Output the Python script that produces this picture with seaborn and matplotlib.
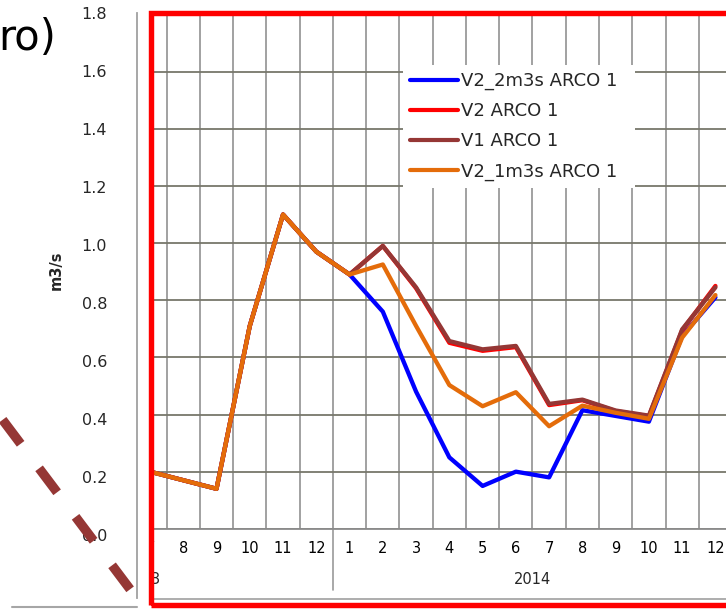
import numpy as np
import pandas as pd
import matplotlib
matplotlib.use("Agg")
import matplotlib.pyplot as plt
import seaborn as sns
from matplotlib.lines import Line2D
from matplotlib.patches import Rectangle
from matplotlib.transforms import Bbox, TransformedBbox
from matplotlib.ticker import FormatStrFormatter

sns.set_style("white")
plt.rcParams["font.family"] = ["DejaVu Sans"]
plt.rcParams["lines.scale_dashes"] = False

# ---- data -------------------------------------------------------------
months = ["7", "8", "9", "10", "11", "12",
          "1", "2", "3", "4", "5", "6", "7", "8", "9", "10", "11", "12"]
year_labels = ["2013", "2014"]

v2_2m3s = [0.20, 0.17, 0.14, 0.71, 1.10, 0.97, 0.89, 0.76, 0.48, 0.25,
           0.15, 0.20, 0.18, 0.415, 0.395, 0.375, 0.675, 0.81]
v2 = [0.20, 0.17, 0.14, 0.71, 1.10, 0.97, 0.89, 0.99, 0.842, 0.651,
      0.623, 0.636, 0.433, 0.450, 0.412, 0.394, 0.695, 0.85]
v1 = [0.20, 0.17, 0.14, 0.71, 1.10, 0.97, 0.89, 0.99, 0.845, 0.657,
      0.628, 0.640, 0.437, 0.452, 0.414, 0.396, 0.698, 0.845]
v2_1m3s = [0.20, 0.17, 0.14, 0.71, 1.10, 0.97, 0.89, 0.925, 0.71, 0.503,
           0.429, 0.478, 0.359, 0.431, 0.406, 0.385, 0.669, 0.818]

series_names = ["V2_2m3s ARCO 1", "V2 ARCO 1", "V1 ARCO 1", "V2_1m3s ARCO 1"]
series_values = [v2_2m3s, v2, v1, v2_1m3s]
series_colors = ["#0000ff", "#ff0000", "#953735", "#e46c0a"]

frames = []
for name, vals in zip(series_names, series_values):
    frames.append(pd.DataFrame({"idx": np.arange(len(months)),
                                "value": vals, "series": name}))
df = pd.concat(frames, ignore_index=True)

# ---- figure / layout helpers (pixel based) ----------------------------
W, H = 726, 609
fig = plt.figure(figsize=(W / 100, H / 100), dpi=100)
fig.patch.set_facecolor("white")


def fx(px):
    return px / W


def fy(py):
    return 1 - py / H


x0_px, x1_px = 150.0, 732.1
ytop_px, ybot_px = 14.5, 528.8
cat0_px, cat_w = 149.3, 33.3
ppu = (ybot_px - ytop_px) / 1.8

ax = fig.add_axes([fx(x0_px), fy(ybot_px),
                   (x1_px - x0_px) / W, (ybot_px - ytop_px) / H])
ax.patch.set_visible(False)

sns.lineplot(data=df, x="idx", y="value", hue="series",
             hue_order=series_names, palette=series_colors,
             estimator=None, linewidth=3.1, legend=False, ax=ax,
             solid_joinstyle="round", solid_capstyle="round")

ax.set_xlim((x0_px - cat0_px) / cat_w, (x1_px - cat0_px) / cat_w)
ax.set_ylim(0, 1.8)
ax.set_xlabel("")
ax.set_ylabel("")

ax.set_yticks(np.arange(0, 1.81, 0.2))
ax.tick_params(axis="y", length=0, labelleft=False)

ax.set_xticks(range(len(months)))
ax.set_xticklabels(months)
ax.set_xticks(np.arange(0.5, len(months), 1), minor=True)
ax.tick_params(axis="x", which="major", length=0, pad=8.5, labelsize=10.5,
               labelcolor="black")
ax.tick_params(axis="x", which="minor", length=22.3, width=1.2,
               color="#999999", direction="out")

ax.set_axisbelow(True)
ax.grid(False)
ax.grid(axis="y", which="major", color="#77776b", linewidth=1.3)
ax.grid(axis="x", which="minor", color="#9a9a9a", linewidth=1.3)
for s in ["top", "right", "left"]:
    ax.spines[s].set_visible(False)
ax.spines["bottom"].set_color("#8c8c8c")
ax.spines["bottom"].set_linewidth(1.3)

clip_area = TransformedBbox(Bbox([[fx(x0_px), 0], [1, 1]]), fig.transFigure)
for lbl in ax.get_xticklabels():
    lbl.set_clip_box(clip_area)
    lbl.set_clip_on(True)

# year separator and year row
ax.axvline(5.5, ymin=-(590 - ybot_px) / ppu / 1.8, ymax=0, clip_on=False,
           color="#999999", linewidth=1.2)
year_y = -(580 - ybot_px) / ppu
yr13 = fig.text(-0.22, year_y, year_labels[0], transform=ax.transData,
                ha="center", va="center", fontsize=10.5)
yr13.set_clip_box(clip_area)
yr13.set_clip_on(True)
fig.text(11.5, year_y, year_labels[1], transform=ax.transData,
         ha="center", va="center", fontsize=10.5)

# bottom edge of the chart area
fig.add_artist(Line2D([fx(x0_px), fx(W)], [fy(599), fy(599)],
                      color="#a0a0a0", linewidth=1.2))

# ---- left value axis --------------------------------------------------
l_top, l_zero, l_bot = 13.3, 535.0, 598.0
l_ppu = (l_zero - l_top) / 1.8
axl = fig.add_axes([fx(137), fy(l_bot), 0.0001, (l_bot - l_top) / H])
axl.patch.set_visible(False)
axl.set_ylim(-(l_bot - l_zero) / l_ppu, 1.8)
axl.set_xticks([])
axl.set_yticks(np.arange(0, 1.81, 0.2))
axl.yaxis.set_major_formatter(FormatStrFormatter("%.1f"))
axl.tick_params(axis="y", length=6.5, width=1.1, color="#a0a0a0",
                pad=15, labelsize=11.5, direction="out")
for s in ["top", "right", "bottom"]:
    axl.spines[s].set_visible(False)
axl.spines["left"].set_color("#a0a0a0")
axl.spines["left"].set_linewidth(1.3)
axl.set_ylabel("m3/s", fontweight="bold", fontsize=10.5)
axl.yaxis.set_label_coords(fx(64), fy(270), transform=fig.transFigure)

# ---- legend -------------------------------------------------------------
handles = [Line2D([], [], color=c, linewidth=3.0) for c in series_colors]
fig.legend(handles, series_names, loc="upper left",
           bbox_to_anchor=(fx(403), fy(195), fx(635) - fx(403), fy(65) - fy(195)),
           bbox_transform=fig.transFigure, mode="expand",
           frameon=True, fancybox=False, framealpha=1, edgecolor="none",
           facecolor="white", fontsize=13, handlelength=2.65,
           handletextpad=0.17, labelspacing=0.66, borderpad=0.4,
           borderaxespad=0)

# ---- surrounding slide elements ----------------------------------------
fig.text(fx(-2), fy(50), "ro)", fontsize=30, ha="left", va="baseline",
         color="black")

p0 = np.array([130.1, 589.3])
p1 = np.array([-20.0, 389.8])
fig.add_artist(Line2D([fx(p0[0]), fx(p1[0])], [fy(p0[1]), fy(p1[1])],
                      color="#953735", linewidth=6.8,
                      linestyle=(0, (21.6, 22.1)), solid_capstyle="butt",
                      dash_capstyle="butt"))

fig.add_artist(Line2D([fx(12), fx(137)], [fy(607.3), fy(607.3)],
                      color="#a6a6a6", linewidth=1.5))

fig.add_artist(Rectangle((fx(150.5), fy(604.5)), fx(760) - fx(150.5),
                         fy(12.5) - fy(604.5), transform=fig.transFigure,
                         fill=False, edgecolor="#ff0000", linewidth=3.9,
                         joinstyle="miter", zorder=20))

fig.savefig("out.png", dpi=100)
